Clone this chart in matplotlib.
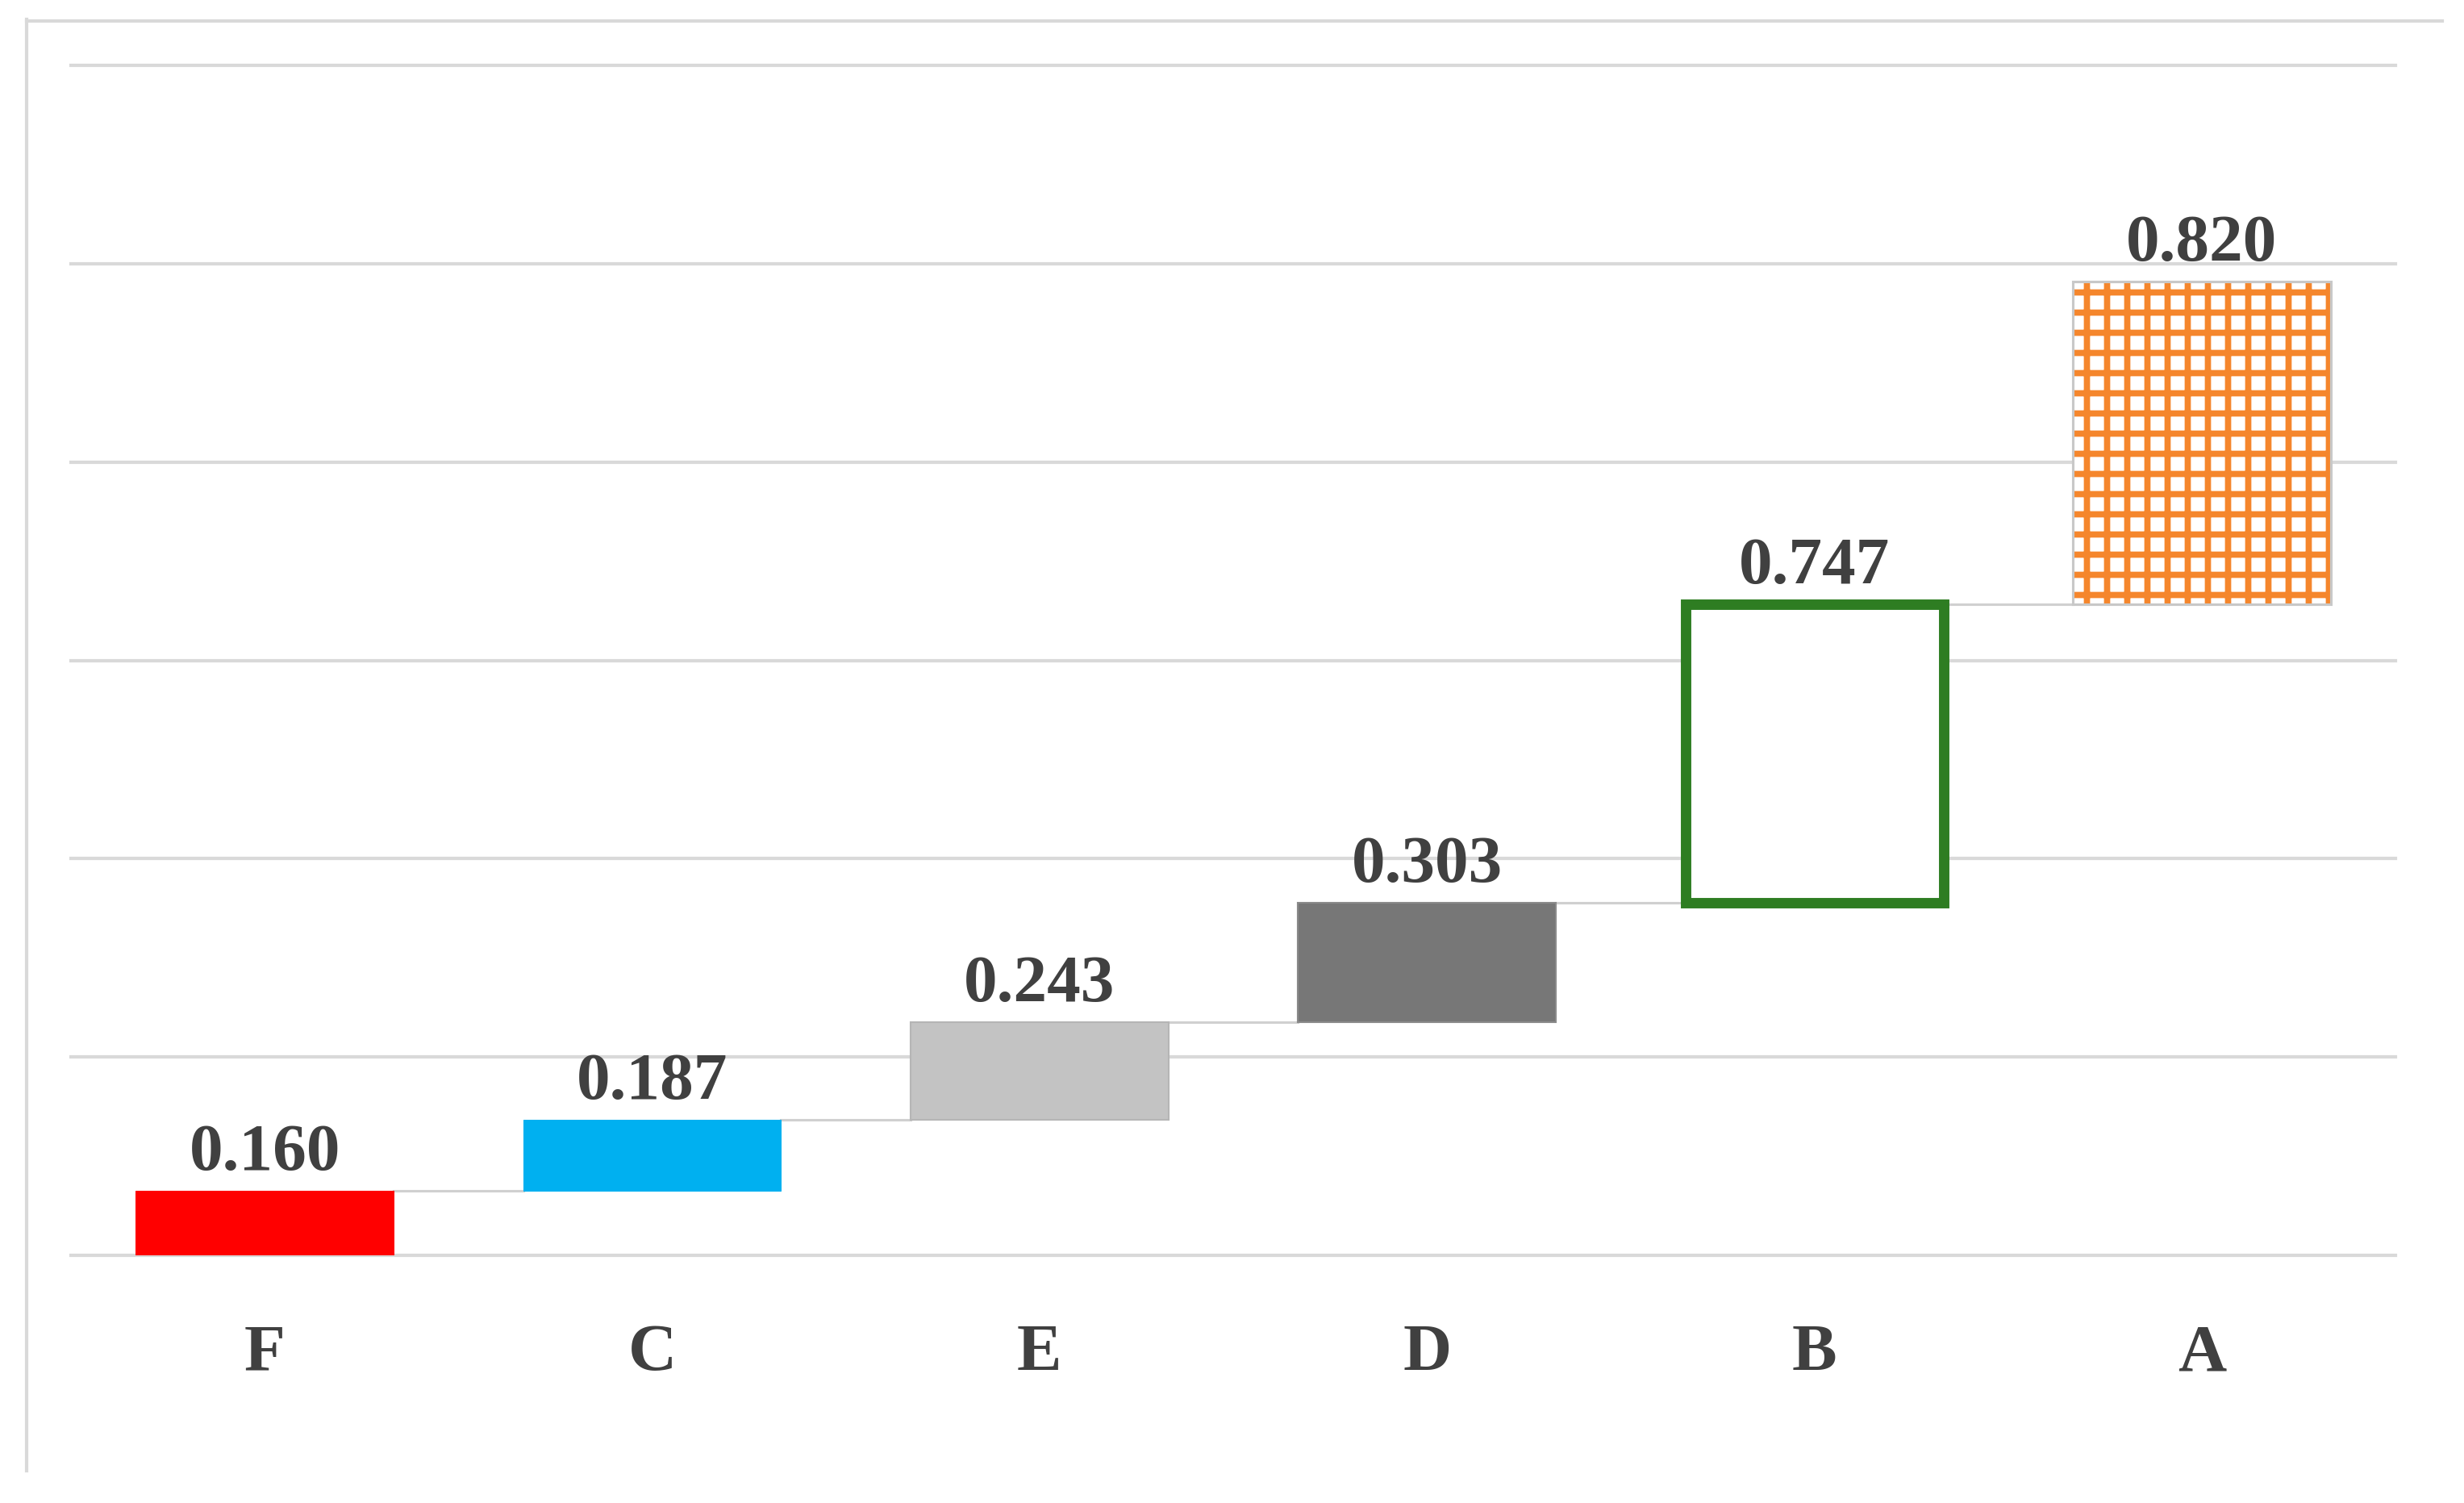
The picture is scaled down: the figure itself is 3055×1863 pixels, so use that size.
import matplotlib
matplotlib.use("Agg")
import matplotlib.pyplot as plt
from matplotlib.lines import Line2D

plt.rcParams["hatch.linewidth"] = 3.7

categories = ["F", "C", "E", "D", "B", "A"]
value_labels = ["0.160", "0.187", "0.243", "0.303", "0.747", "0.820"]
# bar levels (gridline units, no visible y scale)
levels = [0.0, 0.325, 0.685, 1.176, 1.778, 3.283, 4.91]
bottoms = levels[:-1]
tops = levels[1:]

BAR_W = 0.666
TEXT = "#404040"
GRID = "#D9D9D9"
SERIF = "Liberation Serif"

fig = plt.figure(figsize=(3055 / 150, 1864 / 150), dpi=150)
ax = fig.add_axes([0.0288, 0.1647, 0.9434, 0.7913])

x = list(range(len(categories)))
heights = [t - b for t, b in zip(tops, bottoms)]

styles = [
    dict(color="#FF0000", edgecolor="#FF0000", linewidth=0.5),
    dict(color="#00B0F0", edgecolor="#00B0F0", linewidth=0.5),
    dict(color="#C3C3C3", edgecolor="#B5B5B5", linewidth=1.0),
    dict(color="#777777", edgecolor="#8A8A8A", linewidth=1.0),
    dict(color="white", edgecolor="#2E7D22", linewidth=6.2),
    dict(color="white", edgecolor="#F5862C", linewidth=0, hatch="+"),
]
for i in x:
    ax.bar(i, heights[i], bottom=bottoms[i], width=BAR_W, zorder=3, **styles[i])
# thin grey outline on the hatched bar
ax.bar(x[-1], heights[-1], bottom=bottoms[-1], width=BAR_W, fill=False,
       edgecolor="#C8C8C8", linewidth=1.5, zorder=4)

# connectors between consecutive bars
for i in x[:-1]:
    ax.plot([i + BAR_W / 2, i + 1 - BAR_W / 2], [tops[i], tops[i]],
            color="#D0D0D0", linewidth=1.5, zorder=2)

for i in x:
    ax.annotate(value_labels[i], (i, tops[i]), xytext=(0, 13),
                textcoords="offset points", ha="center", va="baseline",
                fontsize=40, fontweight="bold", family=SERIF, color=TEXT)
    ax.text(i, -0.574, categories[i], ha="center", va="baseline",
            fontsize=40, fontweight="bold", family=SERIF, color=TEXT,
            clip_on=False)

ax.set_xlim(-0.5, len(categories) - 0.5)
ax.set_ylim(0, 6)
ax.set_yticks(range(7))
ax.set_xticks([])
ax.tick_params(left=False, labelleft=False)
ax.yaxis.grid(True, color=GRID, linewidth=2.0)
for gl in ax.get_ygridlines():
    gl.set_clip_on(False)
ax.set_axisbelow(True)
for s in ax.spines.values():
    s.set_visible(False)

# light frame (left and top only)
fig.add_artist(Line2D([33 / 3055, 33 / 3055], [1 - 25 / 1864, 1 - 1824 / 1864],
                      color=GRID, linewidth=2.0))
fig.add_artist(Line2D([33 / 3055, 3028 / 3055], [1 - 27 / 1864, 1 - 27 / 1864],
                      color=GRID, linewidth=2.0))

fig.savefig("out.png", dpi=150, facecolor="white")
